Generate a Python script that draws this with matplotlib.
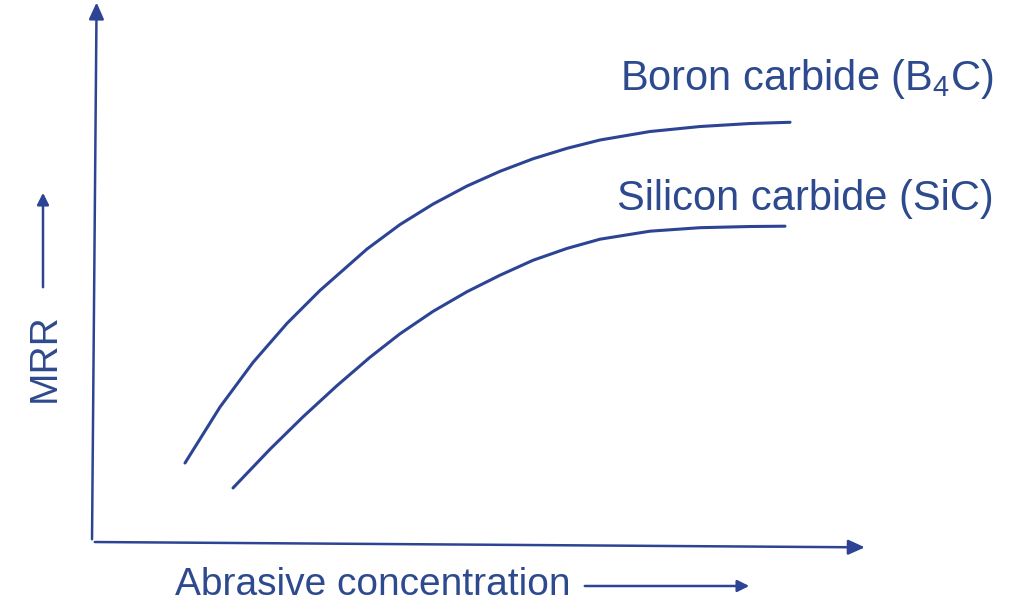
import matplotlib
matplotlib.use("Agg")
import matplotlib.pyplot as plt
from matplotlib.patches import FancyArrowPatch

# Abrasive concentration (arbitrary units) vs MRR (arbitrary units)
boron_x = [12.11, 16.67, 20.96, 25.39, 29.69, 35.81, 40.10, 44.40, 48.83, 53.13,
           57.42, 61.85, 66.15, 72.66, 79.17, 85.68, 90.89]
boron_y = [14.71, 25.14, 33.43, 40.71, 46.85, 54.56, 59.11, 62.92, 66.29, 69.03,
           71.36, 73.31, 74.86, 76.44, 77.37, 77.93, 78.16]
sic_x = [18.36, 23.18, 27.47, 31.90, 36.20, 40.10, 44.40, 48.83, 53.13, 57.42,
         61.85, 66.15, 72.66, 79.17, 85.68, 90.23]
sic_y = [10.06, 17.28, 23.30, 29.12, 34.41, 38.77, 42.94, 46.61, 49.68, 52.46,
         54.67, 56.39, 57.88, 58.53, 58.75, 58.81]
labels = ["Boron carbide (B$_4$C)", "Silicon carbide (SiC)"]
xlabel = "Abrasive concentration"
ylabel = "MRR"

line_c = "#2c4493"
text_c = "#2e4a8e"
plt.rcParams['font.family'] = ['Liberation Sans', 'DejaVu Sans']
plt.rcParams['mathtext.fontset'] = 'custom'
plt.rcParams['mathtext.rm'] = 'Liberation Sans'

fig = plt.figure(figsize=(10.31, 6.03), dpi=100)
ax = fig.add_axes([92/1031, 61/603, 768/1031, 537/603])
ax.set_xlim(0, 100)
ax.set_ylim(0, 100)
ax.axis("off")

ax.plot(boron_x, boron_y, color=line_c, lw=2.2, solid_capstyle="round", solid_joinstyle="round")
ax.plot(sic_x, sic_y, color=line_c, lw=2.2, solid_capstyle="round", solid_joinstyle="round")

# axes with arrows
ax.annotate("", xy=(101, -1), xytext=(0, 0), xycoords="data",
            arrowprops=dict(arrowstyle="-|>,head_length=1.0,head_width=0.45", color=line_c, lw=1.8),
            annotation_clip=False)
ax.annotate("", xy=(0.6, 101), xytext=(0, 0), xycoords="data",
            arrowprops=dict(arrowstyle="-|>,head_length=1.0,head_width=0.45", color=line_c, lw=1.8),
            annotation_clip=False)

# curve labels
ax.text(68.75, 84.2, labels[0], color=text_c, fontsize=30, ha="left", va="baseline")
ax.text(68.4, 61.8, labels[1], color=text_c, fontsize=30, ha="left", va="baseline")

# axis labels with arrows
fig.text(175/1031, 1 - 595/603, xlabel, color=text_c, fontsize=28, ha="left", va="baseline")
fig.add_artist(FancyArrowPatch((582/1031, 1 - 586/603), (752/1031, 1 - 586/603),
               transform=fig.transFigure, arrowstyle="-|>,head_length=7,head_width=3.5",
               color=line_c, lw=1.8))
fig.text(45/1031, 1 - 358/603, ylabel, color=text_c, fontsize=28, rotation=90, ha="center", va="center")
fig.add_artist(FancyArrowPatch((43/1031, 1 - 290/603), (43/1031, 1 - 190/603),
               transform=fig.transFigure, arrowstyle="-|>,head_length=7,head_width=3.5",
               color=line_c, lw=1.8))

fig.savefig("out.png", dpi=100)
